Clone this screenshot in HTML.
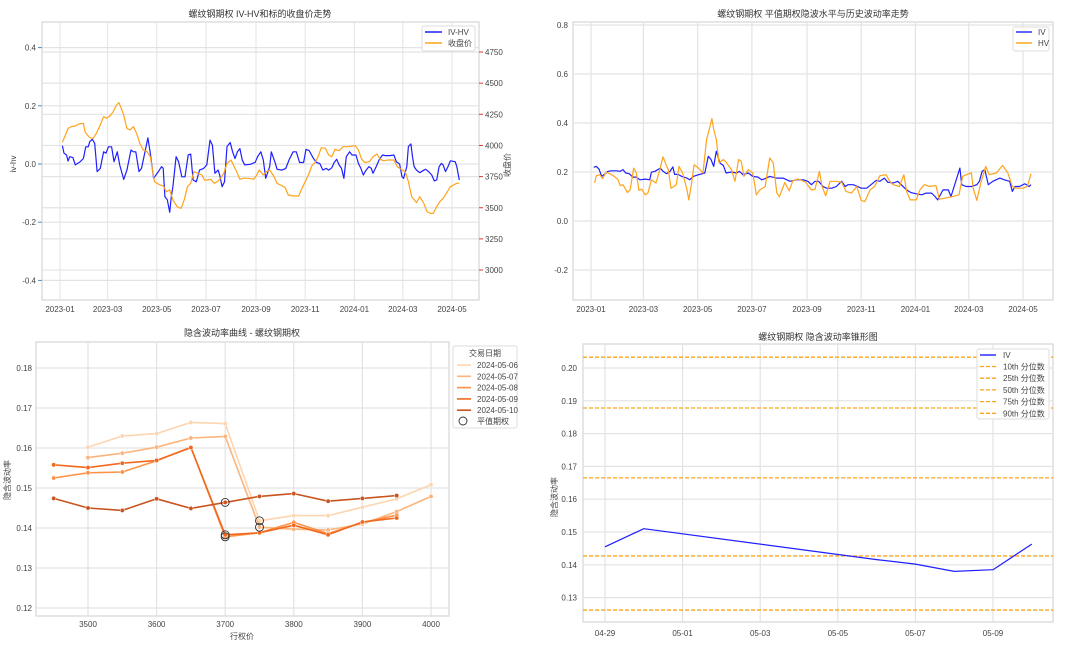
<!DOCTYPE html>
<html><head><meta charset="utf-8">
<style>
html,body{margin:0;padding:0;background:#fff;}
svg{display:block;font-family:"Liberation Sans","Noto Sans CJK SC",sans-serif;}
.tk{font-size:8px;fill:#444;}
.ttl{font-size:9px;fill:#333;}
</style></head>
<body>
<svg id="c" width="1080" height="646" viewBox="0 0 1080 646" xmlns="http://www.w3.org/2000/svg"></svg>
<script>
// ---------- Panel 1 data (day offset from 2023-01-01) ----------
const p1DiffDays=[3,5,8,10,12,16,19,25,29,32,35,37,40,43,46,50,54,57,60,64,67,71,74,79,83,88,91,94,98,101,105,109,112,116,122,126,128,130,133,136,138,140,144,147,151,155,159,162,165,169,173,178,182,186,189,192,196,198,201,204,207,211,214,217,220,223,226,229,236,242,245,249,252,255,260,262,267,269,275,280,284,289,293,297,302,305,309,314,318,322,326,330,333,337,340,343,346,349,352,355,359,362,367,370,373,376,379,383,386,388,392,396,400,403,409,414,417,421,424,426,430,432,435,437,439,442,446,450,453,457,461,464,467,470,473,475,478,481,484,490,492,495];
const p1DiffVals=[.063,.037,.031,.010,.025,.022,-.003,.008,.019,.059,.059,.077,.085,.071,-.026,-.015,.042,.037,.059,.059,.008,.042,-.003,-.053,-.021,.048,.042,.042,-.026,-.015,.037,.090,.037,-.049,-.026,-.009,-.015,-.112,-.123,-.166,-.112,-.078,.025,.008,-.044,-.044,.031,.034,-.055,-.061,-.021,-.015,-.003,.082,.065,-.032,-.021,-.038,-.078,-.061,.060,.074,.042,.019,.042,.053,.013,-.003,-.001,.006,.025,.042,.014,-.049,-.009,.042,.002,-.018,-.021,-.015,.014,.042,.042,.005,.005,.050,.046,.020,.005,.002,-.021,-.015,-.021,-.013,.005,.016,-.003,-.015,-.049,.025,.042,.031,.031,.002,-.015,-.038,-.023,-.009,-.015,-.032,-.009,.016,.031,.029,.029,.031,.008,.000,-.044,-.049,-.009,.060,.069,.025,-.009,-.021,-.030,-.023,-.018,-.026,-.038,-.058,-.055,-.009,.002,-.003,-.026,-.009,.011,.008,-.009,-.055];
const p1PriceDays=[3,6,10,14,19,23,29,31,34,37,41,45,50,54,58,62,66,70,73,76,79,83,87,91,95,99,103,107,112,117,120,124,128,132,136,140,145,150,154,158,162,166,171,176,179,183,187,191,195,199,203,207,212,215,219,223,227,234,240,244,247,252,256,260,265,269,273,279,283,289,296,299,304,308,312,316,320,324,329,333,337,341,346,351,357,366,370,374,378,384,388,393,397,401,407,414,418,424,428,432,436,442,446,451,455,459,463,467,471,475,479,484,488,492,495];
const p1PriceVals=[4025,4071,4137,4151,4156,4172,4178,4111,4084,4063,4057,4097,4164,4231,4218,4236,4271,4325,4343,4298,4244,4137,4124,4151,4097,4017,3964,3956,3910,3710,3696,3683,3675,3629,3643,3562,3509,3495,3562,3669,3696,3790,3776,3763,3723,3723,3728,3696,3709,3736,3776,3857,3883,3843,3790,3728,3736,3736,3728,3763,3803,3763,3790,3803,3755,3696,3683,3664,3602,3594,3594,3643,3709,3763,3835,3862,3910,3982,3977,3923,3910,3969,3958,3990,3990,3998,3964,3889,3862,3870,3910,3931,3889,3878,3883,3883,3830,3803,3790,3709,3589,3541,3589,3536,3469,3455,3455,3509,3549,3576,3616,3669,3683,3696,3696];
const p1LeftTicks=[0.4,0.2,0.0,-0.2,-0.4];
const p1RightTicks=[4750,4500,4250,4000,3750,3500,3250,3000];
const monthTicks=[0,59,120,181,243,304,365,425,486];
const monthLabels=["2023-01","2023-03","2023-05","2023-07","2023-09","2023-11","2024-01","2024-03","2024-05"];
// ---------- Panel 2 data ----------
const ivDays=[3,6,9,12,16,19,23,29,33,36,39,43,47,51,55,61,66,68,72,78,81,85,89,92,94,98,102,108,111,115,121,128,132,135,138,141,145,149,152,158,164,167,171,177,182,188,192,196,201,209,216,224,231,239,244,248,252,256,261,265,271,276,282,286,289,295,300,304,310,315,321,325,330,334,340,345,349,355,360,366,372,377,383,387,390,396,402,405,415,417,422,428,434,437,440,443,447,452,460,465,471,474,477,482,488,493,495];
const ivVals=[.219,.223,.212,.182,.193,.203,.205,.205,.203,.210,.196,.193,.179,.179,.168,.171,.168,.199,.203,.216,.203,.193,.203,.221,.190,.190,.182,.175,.168,.182,.189,.196,.264,.251,.223,.285,.237,.226,.196,.200,.196,.203,.189,.196,.182,.179,.168,.173,.182,.175,.175,.162,.168,.168,.162,.148,.162,.162,.141,.134,.134,.141,.162,.141,.148,.148,.141,.134,.134,.148,.166,.162,.175,.158,.155,.162,.148,.127,.116,.111,.107,.114,.114,.100,.086,.127,.127,.100,.216,.148,.141,.141,.148,.162,.203,.210,.148,.162,.175,.168,.162,.121,.141,.141,.152,.141,.148];
const hvDays=[4,6,10,13,17,21,25,30,33,36,41,44,48,51,54,57,61,64,68,73,77,81,84,87,90,93,96,99,103,108,110,113,116,121,126,130,134,136,138,141,144,149,152,158,162,166,169,172,177,182,186,190,196,201,205,209,212,218,223,227,233,241,248,252,257,260,264,269,276,282,287,293,299,304,308,314,319,325,332,336,340,347,352,355,359,366,370,375,381,388,392,398,407,414,418,422,428,430,434,439,444,448,456,463,469,474,478,486,491,495];
const hvVals=[.155,.185,.189,.173,.199,.193,.185,.171,.144,.148,.116,.127,.216,.196,.125,.130,.107,.114,.168,.155,.203,.262,.234,.210,.134,.141,.148,.223,.196,.127,.086,.148,.230,.216,.196,.333,.388,.418,.374,.333,.237,.251,.240,.210,.162,.251,.244,.182,.210,.196,.107,.127,.141,.257,.237,.115,.099,.157,.123,.164,.171,.160,.127,.129,.203,.141,.103,.162,.162,.158,.121,.114,.141,.084,.079,.127,.141,.185,.189,.162,.148,.141,.189,.121,.086,.086,.127,.148,.141,.145,.089,.093,.100,.107,.182,.189,.196,.134,.084,.162,.223,.189,.196,.227,.196,.141,.134,.134,.141,.193];
const p2Ticks=[0.8,0.6,0.4,0.2,0.0,-0.2];
// ---------- Panel 3 data ----------
const strikes=[3450,3500,3550,3600,3650,3700,3750,3800,3850,3900,3950,4000];
const smileDates=["2024-05-06","2024-05-07","2024-05-08","2024-05-09","2024-05-10"];
const smile0506=[null,.1602,.1630,.1636,.1664,.1661,.1418,.1431,.1431,.1452,.1473,.1508];
const smile0507=[null,.1576,.1587,.1602,.1625,.1629,.1402,.1397,.1395,.1410,.1441,.1479];
const smile0508=[.1525,.1538,.1540,.1568,.1602,.1378,.1388,.1414,.1386,.1414,.1432,null];
const smile0509=[.1558,.1551,.1562,.1569,.1601,.1383,.1388,.1407,.1383,.1415,.1425,null];
const smile0510=[.1474,.1450,.1444,.1473,.1449,.1464,.1479,.1486,.1467,.1474,.1481,null];
const atmStrikes=[3750,3750,3700,3700,3700];
const p3YTicks=[0.18,0.17,0.16,0.15,0.14,0.13,0.12];
const p3XTicks=[3500,3600,3700,3800,3900,4000];
// ---------- Panel 4 data (day offset from 04-29) ----------
const coneDays=[0,1,7,8,9,10,11];
const coneIV=[.1455,.1510,.1416,.1402,.1380,.1385,.1463];
const pctLabels=["10th","25th","50th","75th","90th"];
const pctVals=[.1262,.1427,.1665,.1878,.2033];
const p4YTicks=[0.20,0.19,0.18,0.17,0.16,0.15,0.14,0.13];
const p4XTickDays=[0,2,4,6,8,10];
const p4XLabels=["04-29","05-01","05-03","05-05","05-07","05-09"];

const svg=document.getElementById('c');
const NS='http://www.w3.org/2000/svg';
function mk(tag,attrs,parent){const e=document.createElementNS(NS,tag);for(const k in attrs)e.setAttribute(k,attrs[k]);(parent||svg).appendChild(e);return e;}
function txt(x,y,s,cls,anchor,parent,fill){const t=mk('text',{x:x,y:y,class:cls,'text-anchor':anchor||'middle'},parent);if(fill)t.setAttribute('fill',fill);t.textContent=s;return t;}
const GRID='#e3e3e3', BORDER='#d6d6d6';
function frame(x0,y0,x1,y1,name){const g=mk('g',{});mk('rect',{x:x0,y:y0,width:x1-x0,height:y1-y0,fill:'#fff',stroke:BORDER,'stroke-width':1.2},g);return g;}
function poly(pts,color,w,parent,dash){return mk('polyline',{points:pts.map(p=>p[0].toFixed(1)+','+p[1].toFixed(1)).join(' '),fill:'none',stroke:color,'stroke-width':w,'stroke-linejoin':'round','stroke-dasharray':dash||'none'},parent);}

// ===== Panel 1 =====
(function(){
 const X0=42,X1=479,Y0=22,Y1=300;
 const sx=d=>60+d*392/486, syL=v=>164-v*291, syR=p=>52+(4750-p)*0.1246;
 const g=frame(X0,Y0,X1,Y1,'iv-hv-price-panel');
 monthTicks.forEach((d,i)=>{mk('line',{x1:sx(d),x2:sx(d),y1:Y0,y2:Y1,stroke:GRID},g);const t=txt(sx(d),312,monthLabels[i],'tk','middle',g);});
 p1LeftTicks.forEach(v=>{mk('line',{x1:X0,x2:X1,y1:syL(v),y2:syL(v),stroke:GRID,'stroke-width':1.2},g);mk('line',{x1:X0-4,x2:X0,y1:syL(v),y2:syL(v),stroke:'#4a8fc8'},g);txt(X0-6,syL(v)+3,v.toFixed(1),'tk','end',g,'#3d8bc9');});
 p1RightTicks.forEach(p=>{mk('line',{x1:X0,x2:X1,y1:syR(p),y2:syR(p),stroke:GRID,'stroke-width':1.2},g);mk('line',{x1:X1,x2:X1+4,y1:syR(p),y2:syR(p),stroke:'#d33'},g);txt(X1+6,syR(p)+3,String(p),'tk','start',g,'#e03a3a');});
 const l1=poly(p1DiffDays.map((d,i)=>[sx(d),syL(p1DiffVals[i])]),'#1f1fff',1.2,g);
 
 const l2=poly(p1PriceDays.map((d,i)=>[sx(d),syR(p1PriceVals[i])]),'#ffa31a',1.2,g);
 
 const t=txt(260,17,'螺纹钢期权 IV-HV和标的收盘价走势','ttl','middle');
 const yl=txt(0,0,'iv-hv','tk','middle',null,'#3d8bc9');yl.setAttribute('transform','translate(16,164) rotate(-90)');
 const yr=txt(0,0,'收盘价','tk','middle',null,'#e03a3a');yr.setAttribute('transform','translate(510,165) rotate(-90)');
 const lg=mk('g',{});
 mk('rect',{x:422,y:26,width:53,height:25,fill:'#fff',stroke:'#ddd',rx:2},lg);
 mk('line',{x1:425,x2:442,y1:32,y2:32,stroke:'#1f1fff','stroke-width':1.4},lg);txt(448,35,'IV-HV','tk','start',lg);
 mk('line',{x1:425,x2:442,y1:43,y2:43,stroke:'#ffa31a','stroke-width':1.4},lg);txt(448,46,'收盘价','tk','start',lg);
})();

// ===== Panel 2 =====
(function(){
 const X0=573,X1=1053,Y0=22,Y1=300;
 const sx=d=>591+d*432/486, sy=v=>221-v*245;
 const g=frame(X0,Y0,X1,Y1,'iv-hv-trend-panel');
 monthTicks.forEach((d,i)=>{mk('line',{x1:sx(d),x2:sx(d),y1:Y0,y2:Y1,stroke:GRID,'stroke-width':1.2},g);txt(sx(d),312,monthLabels[i],'tk','middle',g);});
 p2Ticks.forEach(v=>{mk('line',{x1:X0,x2:X1,y1:sy(v),y2:sy(v),stroke:GRID,'stroke-width':1.2},g);txt(X0-5,sy(v)+3,v.toFixed(1),'tk','end',g);});
 const a=poly(ivDays.map((d,i)=>[sx(d),sy(ivVals[i])]),'#1f1fff',1.2,g);
 const b=poly(hvDays.map((d,i)=>[sx(d),sy(hvVals[i])]),'#ffa31a',1.2,g);
 const t=txt(813,17,'螺纹钢期权 平值期权隐波水平与历史波动率走势','ttl','middle');
 const lg=mk('g',{});
 mk('rect',{x:1013,y:27,width:36,height:24,fill:'#fff',stroke:'#ddd',rx:2},lg);
 mk('line',{x1:1016,x2:1032,y1:32,y2:32,stroke:'#1f1fff','stroke-width':1.4},lg);txt(1038,35,'IV','tk','start',lg);
 mk('line',{x1:1016,x2:1032,y1:43,y2:43,stroke:'#ffa31a','stroke-width':1.4},lg);txt(1038,46,'HV','tk','start',lg);
})();

// ===== Panel 3 =====
(function(){
 const X0=36,X1=449,Y0=342,Y1=616;
 const sx=k=>88+(k-3500)*0.686, sy=v=>368+(0.18-v)*4000;
 const g=frame(X0,Y0,X1,Y1,'iv-smile-panel');
 p3XTicks.forEach(k=>{mk('line',{x1:sx(k),x2:sx(k),y1:Y0,y2:Y1,stroke:GRID,'stroke-width':1.2},g);txt(sx(k),627,String(k),'tk','middle',g);});
 p3YTicks.forEach(v=>{mk('line',{x1:X0,x2:X1,y1:sy(v),y2:sy(v),stroke:GRID,'stroke-width':1.2},g);txt(X0-4,sy(v)+3,v.toFixed(2),'tk','end',g);});
 const series=[smile0506,smile0507,smile0508,smile0509,smile0510];
 const colors=['#fdd5ae','#fdb47c','#fd9247','#f0691d','#c9541f'];
 series.forEach((s,si)=>{
  const pts=[];s.forEach((v,i)=>{if(v!==null)pts.push([sx(strikes[i]),sy(v)]);});
  const l=poly(pts,colors[si],1.6,g);
  pts.forEach(p=>{const c=mk('circle',{cx:p[0],cy:p[1],r:2.2,fill:colors[si],stroke:'#fff','stroke-width':0.5},g);});
 });
 series.forEach((s,si)=>{const v=s[strikes.indexOf(atmStrikes[si])];const c=mk('circle',{cx:sx(atmStrikes[si]),cy:sy(v),r:4,fill:'none',stroke:'#333','stroke-width':0.9},g);});
 const t=txt(242,336,'隐含波动率曲线 - 螺纹钢期权','ttl','middle');
 const xl=txt(242,639,'行权价','tk','middle');
 const yl=txt(0,0,'隐含波动率','tk','middle');yl.setAttribute('transform','translate(10,480) rotate(-90)');
 const lg=mk('g',{});
 mk('rect',{x:453,y:346,width:64,height:82,fill:'#fff',stroke:'#ddd',rx:2},lg);
 txt(485,356,'交易日期','tk','middle',lg);
 smileDates.forEach((d,i)=>{const y=367+i*11.3;mk('line',{x1:457,x2:471,y1:y-2,y2:y-2,stroke:colors[i],'stroke-width':1.6},lg);txt(477,y+1,d,'tk','start',lg);});
 mk('circle',{cx:463,cy:421,r:4,fill:'none',stroke:'#333','stroke-width':0.9},lg);txt(477,424,'平值期权','tk','start',lg);
})();

// ===== Panel 4 =====
(function(){
 const X0=583,X1=1053,Y0=344,Y1=622;
 const sx=d=>605+d*38.8, sy=v=>368+(0.20-v)*3280;
 const g=frame(X0,Y0,X1,Y1,'iv-cone-panel');
 p4XTickDays.forEach((d,i)=>{mk('line',{x1:sx(d),x2:sx(d),y1:Y0,y2:Y1,stroke:GRID,'stroke-width':1.2},g);txt(sx(d),636,p4XLabels[i],'tk','middle',g);});
 p4YTicks.forEach(v=>{mk('line',{x1:X0,x2:X1,y1:sy(v),y2:sy(v),stroke:GRID,'stroke-width':1.2},g);txt(X0-6,sy(v)+3,v.toFixed(2),'tk','end',g);});
 pctVals.forEach((v,i)=>{const l=mk('line',{x1:X0,x2:X1,y1:sy(v),y2:sy(v),stroke:'#ffa31a','stroke-width':1.3,'stroke-dasharray':'4,2'},g);});
 const l=poly(coneDays.map((d,i)=>[sx(d),sy(coneIV[i])]),'#1f1fff',1.2,g);
 const t=txt(818,340,'螺纹钢期权 隐含波动率锥形图','ttl','middle');
 const yl=txt(0,0,'隐含波动率','tk','middle');yl.setAttribute('transform','translate(557,497) rotate(-90)');
 const lg=mk('g',{});
 mk('rect',{x:977,y:349,width:72,height:70,fill:'#fff',stroke:'#ddd',rx:2},lg);
 mk('line',{x1:980,x2:996,y1:355,y2:355,stroke:'#1f1fff','stroke-width':1.4},lg);txt(1003,358,'IV','tk','start',lg);
 pctLabels.forEach((p,i)=>{const y=366.5+i*11.7;mk('line',{x1:980,x2:996,y1:y,y2:y,stroke:'#ffa31a','stroke-width':1.3,'stroke-dasharray':'4,2'},lg);txt(1003,y+3,p+' 分位数','tk','start',lg);});
})();
</script>
</body></html>
